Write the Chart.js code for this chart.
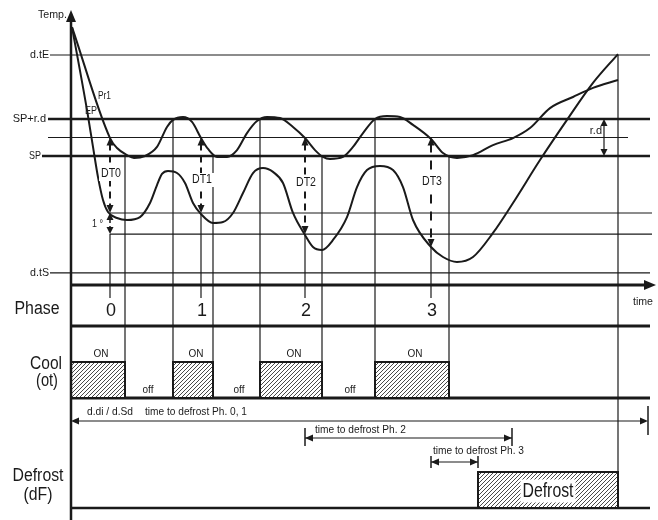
<!DOCTYPE html>
<html lang="en">
<head>
<meta charset="UTF-8">
<title>Defrost phases</title>
<script src="https://cdn.jsdelivr.net/npm/chart.js"></script>
<style>
  html, body { margin: 0; padding: 0; background: #fff; }
  #chartContainer { width: 658px; height: 520px; }
</style>
</head>
<body>
<div id="chartContainer"><canvas id="myChart" width="658" height="520"></canvas></div>
<script>
// time: units from start (0 = Temp. axis), temperature: relative to SP (r.d = 2)
const levelNames = ['d.tE', 'SP+r.d', 'SP', 'd.tS'];
const levelValues = [5.46, 2, 0, -6.32];
const halfDiff = 1.0;            // thin line between SP and SP+r.d
const lowLevels = [-3.08, -4.22]; // evaporator check lines

// Pr1 (cabinet probe)
const pr1Time = [1, 39, 46, 56, 63, 74, 86, 96, 102, 112, 121, 130, 137, 146, 156, 166, 176, 186, 196, 209, 222, 234, 244, 252, 259, 272, 282, 292, 304, 316, 329, 342, 360, 372, 386, 402, 422, 442, 459, 479, 502, 522, 547];
const pr1Temp = [6.97, 0.97, 0.43, 0.05, -0.11, 0, 0.49, 1.57, 1.95, 2.11, 1.84, 0.97, 0.38, -0.05, -0.05, 0.32, 1.24, 1.89, 2.11, 2.05, 1.57, 0.97, 0.32, -0.05, -0.16, -0.05, 0.49, 1.24, 2.0, 2.16, 2.11, 1.68, 0.92, 0.16, -0.11, 0.05, 0.59, 0.97, 1.51, 2.59, 3.19, 3.68, 4.11];

// EP (evaporator probe)
const epTime = [1, 16, 22, 27, 32, 37, 46, 56, 69, 79, 86, 91, 97, 106, 114, 122, 130, 142, 152, 162, 172, 182, 192, 202, 212, 222, 234, 242, 251, 262, 276, 286, 296, 309, 322, 332, 342, 360, 372, 386, 402, 422, 442, 469, 496, 522, 547];
const epTemp = [6.97, 2.49, 0.49, -1.14, -2.38, -3.03, -3.35, -3.46, -3.30, -2.54, -1.57, -0.97, -0.81, -0.92, -1.46, -2.54, -3.14, -3.62, -3.57, -3.08, -2.0, -0.92, -0.65, -0.86, -1.46, -3.08, -4.27, -4.92, -5.08, -4.54, -3.30, -1.68, -0.76, -0.54, -0.76, -1.68, -3.46, -4.92, -5.46, -5.73, -5.46, -4.16, -2.54, -0.22, 1.95, 3.95, 5.51];

// phases (defrost checks) and DT arrows
const phaseLabels = ['0', '1', '2', '3'];
const phaseTimes = [39, 130, 234, 360];
const dtLabels = ['DT0', 'DT1', 'DT2', 'DT3'];
const dtBottom = [-3.08, -3.08, -4.22, -4.92];

// cooling output (ot) on intervals
const coolOnStart = [0, 102, 189, 304];
const coolOnEnd = [54, 142, 251, 378];
const offLabelTimes = [77, 168, 279];

// defrost output (dF)
const defrostStart = 407;
const defrostEnd = 547;
const ttdLabels = ['time to defrost Ph. 0, 1', 'time to defrost Ph. 2', 'time to defrost Ph. 3'];
const ttdStart = [0, 234, 360];
const ttdEnd = [577, 441, 407];

const FONT = '"Liberation Sans", Arial, sans-serif';
const INK = '#1a1a1a';

function seg(c, x1, y1, x2, y2, w, dash) {
  c.save();
  c.beginPath();
  c.lineWidth = w;
  c.strokeStyle = INK;
  c.setLineDash(dash || []);
  c.moveTo(x1, y1);
  c.lineTo(x2, y2);
  c.stroke();
  c.restore();
}

// filled arrow head, tip at (x, y)
function head(c, x, y, dir, len, half) {
  len = len || 8; half = half || 3.5;
  c.save();
  c.fillStyle = INK;
  c.beginPath();
  c.moveTo(x, y);
  if (dir === 'up') { c.lineTo(x - half, y + len); c.lineTo(x + half, y + len); }
  if (dir === 'down') { c.lineTo(x - half, y - len); c.lineTo(x + half, y - len); }
  if (dir === 'left') { c.lineTo(x + len, y - half); c.lineTo(x + len, y + half); }
  if (dir === 'right') { c.lineTo(x - len, y - half); c.lineTo(x - len, y + half); }
  c.closePath();
  c.fill();
  c.restore();
}

function label(c, str, x, y, size, align, maxW, bg) {
  c.save();
  c.font = size + 'px ' + FONT;
  c.textAlign = align || 'left';
  c.textBaseline = 'middle';
  if (bg) {
    let w = Math.min(c.measureText(str).width, maxW || 9999);
    let x0 = align === 'center' ? x - w / 2 : (align === 'right' ? x - w : x);
    c.fillStyle = '#fff';
    c.fillRect(x0 - 2, y - size / 2 - 1, w + 4, size + 2);
  }
  c.fillStyle = INK;
  if (maxW) c.fillText(str, x, y, maxW); else c.fillText(str, x, y);
  c.restore();
}

function hatch(c, x0, y0, x1, y1) {
  c.save();
  c.fillStyle = '#fff';
  c.fillRect(x0, y0, x1 - x0, y1 - y0);
  c.beginPath();
  c.rect(x0, y0, x1 - x0, y1 - y0);
  c.clip();
  c.strokeStyle = '#4a4a4a';
  c.lineWidth = 1;
  const h = y1 - y0;
  c.beginPath();
  for (let k = -h; k < x1 - x0; k += 4) {
    c.moveTo(x0 + k, y1);
    c.lineTo(x0 + k + h, y0);
  }
  c.stroke();
  c.restore();
  c.save();
  c.strokeStyle = INK;
  c.lineWidth = 2;
  c.strokeRect(x0, y0, x1 - x0, y1 - y0);
  c.restore();
}

// row layout of the lower part (row scale = pixels from top)
const ROW = { axisTop: 10, axis: 285, tick: 298, phase: 326, on: 362, cool: 398, ttd0: 421, ttd2: 438, ttd3: 462, dfTop: 472, bottom: 508, end: 520 };

const diagramPlugin = {
  id: 'diagram',
  beforeDatasetsDraw(chart) {
    const c = chart.ctx;
    const X = v => chart.scales.x.getPixelForValue(v);
    const Y = v => chart.scales.y.getPixelForValue(v);
    const R = v => chart.scales.row.getPixelForValue(v);
    const [dtE, spRd, sp, dtS] = levelValues;

    // horizontal temperature lines
    seg(c, X(-21), Y(dtE), X(579), Y(dtE), 1.2);
    seg(c, X(-23), Y(spRd), X(579), Y(spRd), 2.5);
    seg(c, X(-23), Y(halfDiff), X(557), Y(halfDiff), 1.2);
    seg(c, X(-29), Y(sp), X(579), Y(sp), 2.5);
    lowLevels.forEach(v => seg(c, X(phaseTimes[0]), Y(v), X(581), Y(v), 1.2));
    seg(c, X(-21), Y(dtS), X(579), Y(dtS), 1.2);

    // cooling switch lines
    coolOnStart.forEach((t, i) => { if (i > 0) seg(c, X(t), Y(spRd), X(t), R(ROW.cool), 1.2); });
    coolOnEnd.forEach(t => seg(c, X(t), Y(sp), X(t), R(ROW.cool), 1.2));
    seg(c, X(defrostEnd), Y(dtE), X(defrostEnd), R(ROW.dfTop), 1.2);

    // phase ticks below DT arrows
    phaseTimes.forEach((t, i) => {
      const top = i === 0 ? lowLevels[1] : dtBottom[i];
      seg(c, X(t), Y(top), X(t), R(ROW.tick), 1.2);
    });

    // rows
    seg(c, X(0), R(ROW.axis), X(575), R(ROW.axis), 3);
    head(c, X(585), R(ROW.axis), 'right', 12, 5);
    seg(c, X(0), R(ROW.phase), X(579), R(ROW.phase), 3);
    seg(c, X(0), R(ROW.cool), X(579), R(ROW.cool), 3);
    seg(c, X(0), R(ROW.bottom), X(579), R(ROW.bottom), 2.5);

    coolOnStart.forEach((t, i) => hatch(c, X(t), R(ROW.on), X(coolOnEnd[i]), R(ROW.cool)));
    hatch(c, X(defrostStart), R(ROW.dfTop), X(defrostEnd), R(ROW.bottom));

    // Temp. axis
    seg(c, X(0), R(ROW.axisTop + 8), X(0), R(ROW.end), 2.5);
    head(c, X(0), R(ROW.axisTop), 'up', 12, 5);
  },
  afterDatasetsDraw(chart) {
    const c = chart.ctx;
    const X = v => chart.scales.x.getPixelForValue(v);
    const Y = v => chart.scales.y.getPixelForValue(v);
    const R = v => chart.scales.row.getPixelForValue(v);
    const [dtE, spRd, sp, dtS] = levelValues;

    // DT arrows
    const dtY = [174, 180, 183, 182];
    phaseTimes.forEach((t, i) => {
      const x = X(t);
      seg(c, x, Y(halfDiff) + 6, x, Y(dtBottom[i]) - 6, 2, i === 3 ? [9, 8] : [7, 5]);
      head(c, x, Y(halfDiff), 'up', 8, 3.5);
      head(c, x, Y(dtBottom[i]), 'down', 8, 3.5);
      label(c, dtLabels[i], x + 1, R(dtY[i]), 12, 'center', 20, true);
    });
    // 1 degree arrow on phase 0
    seg(c, X(phaseTimes[0]), Y(lowLevels[0]) + 6, X(phaseTimes[0]), Y(lowLevels[1]) - 6, 1.5, [4, 3]);
    head(c, X(phaseTimes[0]), Y(lowLevels[0]), 'up', 7, 3.5);
    head(c, X(phaseTimes[0]), Y(lowLevels[1]), 'down', 7, 3.5);
    label(c, '1 °', X(phaseTimes[0]) - 7, R(224), 11, 'right', 11);

    // r.d arrow
    seg(c, X(533), Y(spRd) + 5, X(533), Y(sp) - 5, 1.2);
    head(c, X(533), Y(spRd), 'up', 7, 3.5);
    head(c, X(533), Y(sp), 'down', 7, 3.5);
    label(c, 'r.d', X(531), R(131), 11, 'right', 13);

    // temperature labels
    label(c, 'Temp.', X(-4), R(15), 11, 'right', 29);
    label(c, levelNames[0], X(-22), Y(dtE), 11, 'right', 19);
    label(c, levelNames[1], X(-25), Y(spRd), 11, 'right', 37);
    label(c, levelNames[2], X(-30), Y(sp), 11, 'right', 12);
    label(c, levelNames[3], X(-22), Y(dtS), 11, 'right', 19);
    label(c, 'Pr1', X(27), R(96), 11, 'left', 13);
    label(c, 'EP', X(14), R(111), 11, 'left', 12);
    label(c, 'time', X(562), R(302), 11, 'left', 20);

    // row titles
    label(c, 'Phase', 37, R(309), 18, 'center', 45);
    label(c, 'Cool', 46, R(364), 18, 'center', 32);
    label(c, '(ot)', 47, R(381), 18, 'center', 22);
    label(c, 'Defrost', 38, R(476), 18, 'center', 51);
    label(c, '(dF)', 38, R(495), 18, 'center', 29);

    phaseTimes.forEach((t, i) => label(c, phaseLabels[i], X(t) + 1, R(311), 19, 'center', 10));
    coolOnStart.forEach((t, i) => label(c, 'ON', (X(t) + X(coolOnEnd[i])) / 2 + 3, R(354), 10, 'center', 15));
    offLabelTimes.forEach(t => label(c, 'off', X(t), R(390), 10, 'center', 14));

    // time to defrost arrows
    label(c, 'd.di / d.Sd', X(16), R(412), 11, 'left', 46);
    label(c, ttdLabels[0], X(74), R(412), 11, 'left', 102);
    seg(c, X(ttdStart[0]) + 6, R(ROW.ttd0), X(ttdEnd[0]) - 6, R(ROW.ttd0), 1.2);
    head(c, X(ttdStart[0]), R(ROW.ttd0), 'left', 8, 3.5);
    head(c, X(ttdEnd[0]), R(ROW.ttd0), 'right', 8, 3.5);
    seg(c, X(ttdEnd[0]), R(406), X(ttdEnd[0]), R(435), 1.5);

    label(c, ttdLabels[1], X(ttdStart[1]) + 10, R(430), 11, 'left', 91);
    seg(c, X(ttdStart[1]), R(ROW.ttd2), X(ttdEnd[1]), R(ROW.ttd2), 1.2);
    head(c, X(ttdStart[1]), R(ROW.ttd2), 'left', 8, 3.5);
    head(c, X(ttdEnd[1]), R(ROW.ttd2), 'right', 8, 3.5);
    seg(c, X(ttdStart[1]), R(428), X(ttdStart[1]), R(446), 1.5);
    seg(c, X(ttdEnd[1]), R(428), X(ttdEnd[1]), R(446), 1.5);

    label(c, ttdLabels[2], X(ttdStart[2]) + 2, R(451), 11, 'left', 91);
    seg(c, X(ttdStart[2]), R(ROW.ttd3), X(ttdEnd[2]), R(ROW.ttd3), 1.2);
    head(c, X(ttdStart[2]), R(ROW.ttd3), 'left', 8, 3.5);
    head(c, X(ttdEnd[2]), R(ROW.ttd3), 'right', 8, 3.5);
    seg(c, X(ttdStart[2]), R(456), X(ttdStart[2]), R(468), 1.5);
    seg(c, X(ttdEnd[2]), R(456), X(ttdEnd[2]), R(468), 1.5);

    label(c, 'Defrost', (X(defrostStart) + X(defrostEnd)) / 2, R(491), 21, 'center', 51, true);
  }
};

function points(times, temps) {
  return times.map((t, i) => ({ x: t, y: temps[i] }));
}

const curveStyle = {
  showLine: true,
  borderColor: INK,
  borderWidth: 2,
  pointRadius: 0,
  cubicInterpolationMode: 'monotone',
  fill: false,
  clip: false
};

const ctx = document.getElementById('myChart').getContext('2d');
new Chart(ctx, {
  type: 'scatter',
  data: {
    datasets: [
      Object.assign({ label: 'Pr1', data: points(pr1Time, pr1Temp) }, curveStyle),
      Object.assign({ label: 'EP', data: points(epTime, epTemp) }, curveStyle)
    ]
  },
  options: {
    responsive: false,
    animation: false,
    layout: { padding: 0 },
    plugins: { legend: { display: false }, tooltip: { enabled: false } },
    scales: {
      x: { type: 'linear', display: false, min: -71, max: 587 },
      y: { type: 'linear', display: false, min: -364 / 18.5, max: 156 / 18.5 },
      row: { type: 'linear', axis: 'y', position: 'left', display: false, min: 0, max: 520, reverse: true }
    }
  },
  plugins: [diagramPlugin]
});
</script>
</body>
</html>
